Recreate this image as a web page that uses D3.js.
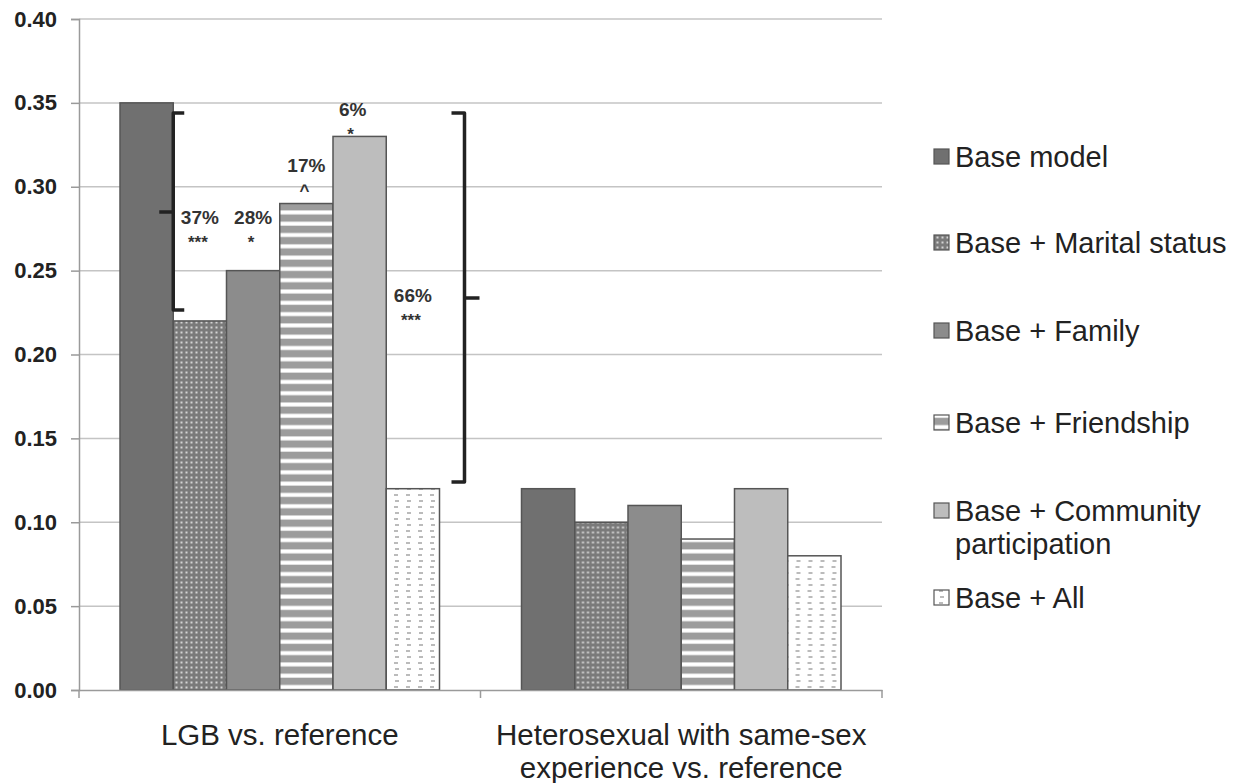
<!DOCTYPE html>
<html><head><meta charset="utf-8">
<script src="https://cdn.jsdelivr.net/npm/d3@7"></script>
<style>body{margin:0;background:#fff}svg{display:block}</style>
</head><body><svg id="c" width="1248" height="783"></svg>
<script>
const categories = ["LGB vs. reference", "Heterosexual with same-sex experience vs. reference"];
const categoryLines = [["LGB vs. reference"], ["Heterosexual with same-sex", "experience vs. reference"]];
const seriesNames = ["Base model", "Base + Marital status", "Base + Family", "Base + Friendship", "Base + Community participation", "Base + All"];
const legendLines = [["Base model"], ["Base + Marital status"], ["Base + Family"], ["Base + Friendship"], ["Base + Community", "participation"], ["Base + All"]];
const lgbValues = [0.35, 0.22, 0.25, 0.29, 0.33, 0.12];
const heteroValues = [0.12, 0.10, 0.11, 0.09, 0.12, 0.08];
const yTicks = [0.00, 0.05, 0.10, 0.15, 0.20, 0.25, 0.30, 0.35, 0.40];
const annotationSeries = [1, 2, 3, 4, 5];
const annotationPct = ["37%", "28%", "17%", "6%", "66%"];
const annotationSig = ["***", "*", "^", "*", "***"];
const annotationAt = [0.278, 0.278, 0.309, 0.342, 0.231];

const FONT = "'Liberation Sans', Arial, sans-serif";
const svg = d3.select("#c");
const defs = svg.append("defs");

// patterns
const pm = defs.append("pattern").attr("id", "pMarital").attr("patternUnits", "userSpaceOnUse").attr("width", 5).attr("height", 5);
pm.append("rect").attr("width", 5).attr("height", 5).attr("fill", "#7a7a7a");
pm.append("rect").attr("x", 1.5).attr("y", 1.5).attr("width", 2).attr("height", 2).attr("fill", "#d4d4d4");
const pf = defs.append("pattern").attr("id", "pFriend").attr("patternUnits", "userSpaceOnUse").attr("width", 10).attr("height", 11.3);
pf.append("rect").attr("width", 10).attr("height", 11.3).attr("fill", "#9c9c9c");
pf.append("rect").attr("y", 7).attr("width", 10).attr("height", 4).attr("fill", "#ffffff");
const pa = defs.append("pattern").attr("id", "pAll").attr("patternUnits", "userSpaceOnUse").attr("width", 12).attr("height", 12);
pa.append("rect").attr("width", 12).attr("height", 12).attr("fill", "#ffffff");
pa.append("rect").attr("x", 3).attr("y", 2).attr("width", 4).attr("height", 2).attr("fill", "#bbbbbb");
pa.append("rect").attr("x", 4).attr("y", 8).attr("width", 4).attr("height", 2).attr("fill", "#bbbbbb");

const fills = ["#707070", "url(#pMarital)", "#8c8c8c", "url(#pFriend)", "#bdbdbd", "url(#pAll)"];

const x0 = d3.scaleBand().domain(categories).range([79, 882]).paddingInner(0).paddingOuter(0);
const x1 = d3.scaleBand().domain(seriesNames).range([0, x0.bandwidth()]).paddingInner(0).paddingOuter(0.77);
const y = d3.scaleLinear().domain([0, 0.40]).range([690, 19]);

// gridlines
svg.append("g").selectAll("line").data(yTicks.filter(d => d > 0)).join("line")
  .attr("x1", 79).attr("x2", 882).attr("y1", d => y(d)).attr("y2", d => y(d))
  .attr("stroke", "#c4c4c4").attr("stroke-width", 1.5);

// y axis
const yAxis = d3.axisLeft(y).tickValues(yTicks).tickFormat(d3.format(".2f")).tickSizeOuter(0).tickSize(8).tickPadding(14);
const gy = svg.append("g").attr("transform", "translate(79,0)").call(yAxis);
gy.select(".domain").attr("stroke", "#9a9a9a").attr("stroke-width", 1.5);
gy.selectAll(".tick line").attr("stroke", "#9a9a9a").attr("stroke-width", 1.5);
gy.selectAll(".tick text").attr("font-family", FONT).attr("font-size", 22).attr("font-weight", "bold").attr("fill", "#222");

// bars
const data = [lgbValues, heteroValues];
const groups = svg.append("g").selectAll("g").data(categories).join("g")
  .attr("transform", d => `translate(${x0(d)},0)`);
groups.selectAll("rect").data((d, i) => data[i].map((v, j) => ({ v, j }))).join("rect")
  .attr("x", d => x1(seriesNames[d.j])).attr("width", x1.bandwidth())
  .attr("y", d => y(d.v)).attr("height", d => y(0) - y(d.v))
  .attr("fill", d => fills[d.j]).attr("stroke", "#555").attr("stroke-width", 1.5);

// x axis
const xAxis = d3.axisBottom(x0).tickSize(0).tickFormat("");
const gx = svg.append("g").attr("transform", "translate(0,690)").call(xAxis);
gx.select(".domain").attr("stroke", "#9a9a9a").attr("stroke-width", 1.5);
svg.append("g").selectAll("line").data([79, x0(categories[1]), 882]).join("line")
  .attr("x1", d => d).attr("x2", d => d).attr("y1", 690).attr("y2", 698)
  .attr("stroke", "#9a9a9a").attr("stroke-width", 1.5);

// category labels
categories.forEach((c, i) => {
  const t = svg.append("text").attr("font-family", FONT).attr("font-size", 29.5).attr("fill", "#222")
    .attr("text-anchor", "middle");
  categoryLines[i].forEach((ln, k) => {
    t.append("tspan").attr("x", x0(c) + x0.bandwidth() / 2).attr("y", 745 + k * 33).text(ln);
  });
});

// annotations
const g1 = x0(categories[0]);
annotationSeries.forEach((s, i) => {
  let cx = g1 + x1(seriesNames[s]) + x1.bandwidth() / 2;
  if (s === 4) cx -= 7;
  svg.append("text").attr("x", cx).attr("y", y(annotationAt[i])).attr("text-anchor", "middle")
    .attr("font-family", FONT).attr("font-weight", "bold").attr("font-size", 19).attr("fill", "#333")
    .text(annotationPct[i]);
  svg.append("text").attr("x", cx - 2).attr("y", y(annotationAt[i]) + 24).attr("text-anchor", "middle")
    .attr("font-family", FONT).attr("font-weight", "bold").attr("font-size", 17).attr("fill", "#333")
    .text(annotationSig[i]);
});

// brackets
const bx1 = g1 + x1(seriesNames[0]) + x1.bandwidth();
const bTop = 0.344;
const lb = d3.path();
lb.moveTo(bx1 + 11, y(bTop)); lb.lineTo(bx1, y(bTop)); lb.lineTo(bx1, y(0.2265)); lb.lineTo(bx1 + 11, y(0.2265));
lb.moveTo(bx1, y(0.285)); lb.lineTo(bx1 - 14, y(0.285));
svg.append("path").attr("d", lb.toString()).attr("fill", "none").attr("stroke", "#222").attr("stroke-width", 3.5).attr("stroke-linejoin", "round");
const bx2 = g1 + x1(seriesNames[5]) + x1.bandwidth() + 25;
const rb = d3.path();
rb.moveTo(bx2 - 13, y(bTop)); rb.lineTo(bx2, y(bTop)); rb.lineTo(bx2, y(0.124)); rb.lineTo(bx2 - 13, y(0.124));
rb.moveTo(bx2, y(0.2337)); rb.lineTo(bx2 + 15, y(0.2337));
svg.append("path").attr("d", rb.toString()).attr("fill", "none").attr("stroke", "#222").attr("stroke-width", 3.5).attr("stroke-linejoin", "round");

// legend
const legendY = [157, 243, 331, 423, 511, 598];
const lg = svg.append("g");
seriesNames.forEach((s, i) => {
  lg.append("rect").attr("x", 934).attr("y", legendY[i] - 8).attr("width", 15).attr("height", 15)
    .attr("fill", fills[i]).attr("stroke", "#555").attr("stroke-width", 1.2);
  const t = lg.append("text").attr("font-family", FONT).attr("font-size", 29).attr("fill", "#222");
  legendLines[i].forEach((ln, k) => {
    t.append("tspan").attr("x", 955).attr("y", legendY[i] + 10 + k * 33).text(ln);
  });
});
</script></body></html>
